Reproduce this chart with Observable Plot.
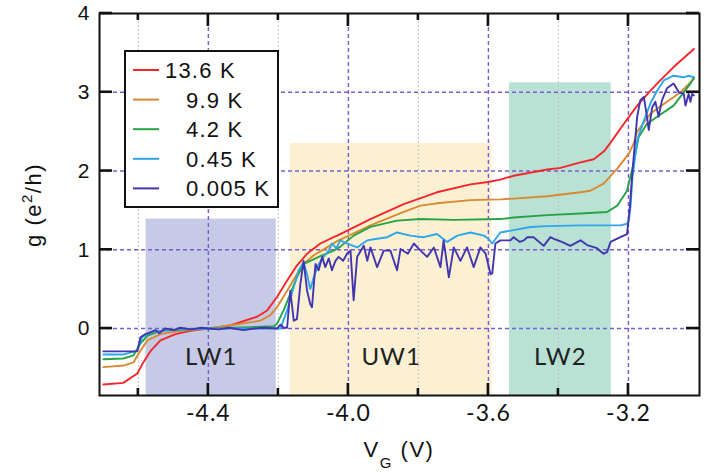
<!DOCTYPE html>
<html><head><meta charset="utf-8">
<script src="https://cdn.jsdelivr.net/npm/d3@7"></script>
<script src="https://cdn.jsdelivr.net/npm/@observablehq/plot@0.6"></script>
<style>body{margin:0;background:#fff;} svg{display:block}</style>
</head><body><div id="chart"></div>
<script>
// ---- data (V_G in volts, g in e^2/h) ----
const seriesLabels = ["13.6 K", "9.9 K", "4.2 K", "0.45 K", "0.005 K"];
const seriesColors = ["#f5262b", "#d88a2e", "#26a344", "#2ea6e8", "#4236b0"];

const g_13_6K = [[-4.700,-0.71],[-4.643,-0.69],[-4.603,-0.57],[-4.586,-0.43],[-4.566,-0.29],[-4.537,-0.15],[-4.494,-0.07],[-4.451,-0.03],[-4.400,0.00],[-4.337,0.04],[-4.309,0.08],[-4.261,0.15],[-4.232,0.23],[-4.204,0.40],[-4.175,0.61],[-4.147,0.80],[-4.118,0.95],[-4.080,1.08],[-4.042,1.16],[-4.032,1.18],[-3.937,1.39],[-3.842,1.58],[-3.747,1.73],[-3.651,1.83],[-3.601,1.86],[-3.566,1.89],[-3.528,1.94],[-3.432,2.02],[-3.394,2.04],[-3.337,2.11],[-3.299,2.15],[-3.270,2.25],[-3.251,2.36],[-3.213,2.60],[-3.175,2.83],[-3.137,3.02],[-3.109,3.15],[-3.071,3.32],[-3.013,3.55]];

const g_9_9K = [[-4.700,-0.49],[-4.643,-0.47],[-4.614,-0.43],[-4.594,-0.28],[-4.574,-0.15],[-4.537,-0.07],[-4.480,-0.03],[-4.400,0.00],[-4.309,0.06],[-4.251,0.10],[-4.223,0.17],[-4.204,0.27],[-4.175,0.48],[-4.147,0.69],[-4.128,0.82],[-4.099,0.93],[-4.061,1.03],[-4.032,1.11],[-3.937,1.31],[-3.842,1.48],[-3.794,1.56],[-3.747,1.59],[-3.651,1.63],[-3.566,1.64],[-3.528,1.65],[-3.432,1.68],[-3.337,1.73],[-3.309,1.75],[-3.271,1.84],[-3.232,2.03],[-3.199,2.22],[-3.185,2.35],[-3.175,2.50],[-3.137,2.73],[-3.090,2.88],[-3.051,3.00],[-3.013,3.17]];

const g_4_2K = [[-4.700,-0.39],[-4.643,-0.38],[-4.614,-0.34],[-4.594,-0.19],[-4.574,-0.09],[-4.537,-0.03],[-4.400,0.00],[-4.213,0.03],[-4.204,0.06],[-4.185,0.23],[-4.166,0.44],[-4.147,0.65],[-4.128,0.82],[-4.109,0.86],[-4.080,0.92],[-4.042,0.99],[-4.023,1.04],[-3.985,1.18],[-3.937,1.29],[-3.861,1.37],[-3.794,1.39],[-3.699,1.38],[-3.566,1.39],[-3.528,1.41],[-3.432,1.44],[-3.337,1.46],[-3.261,1.48],[-3.232,1.56],[-3.204,1.75],[-3.185,2.10],[-3.171,2.43],[-3.147,2.60],[-3.118,2.69],[-3.071,2.83],[-3.023,3.11],[-3.013,3.19]];

const g_0_45K = [[-4.700,-0.33],[-4.643,-0.33],[-4.603,-0.28],[-4.589,-0.11],[-4.566,-0.05],[-4.523,-0.02],[-4.400,0.00],[-4.194,0.00],[-4.175,0.23],[-4.156,0.53],[-4.142,0.74],[-4.128,0.84],[-4.118,0.69],[-4.109,0.50],[-4.099,0.65],[-4.085,0.82],[-4.071,0.91],[-4.056,0.99],[-4.047,1.08],[-4.035,1.02],[-4.023,1.12],[-4.004,1.08],[-3.975,1.03],[-3.946,1.12],[-3.918,1.14],[-3.889,1.16],[-3.861,1.22],[-3.823,1.18],[-3.785,1.16],[-3.747,1.20],[-3.718,1.10],[-3.689,1.18],[-3.651,1.22],[-3.613,1.18],[-3.600,1.14],[-3.589,1.08],[-3.566,1.22],[-3.528,1.25],[-3.480,1.29],[-3.432,1.30],[-3.337,1.31],[-3.223,1.31],[-3.204,1.33],[-3.199,1.37],[-3.194,1.55],[-3.189,1.90],[-3.175,2.39],[-3.156,2.64],[-3.137,2.86],[-3.118,3.02],[-3.099,3.15],[-3.071,3.21],[-3.042,3.19],[-3.028,3.21],[-3.013,3.19]];

const g_0_005K = [[-4.700,-0.29],[-4.603,-0.29],[-4.594,-0.11],[-4.580,-0.07],[-4.566,-0.05],[-4.551,-0.02],[-4.540,-0.06],[-4.523,0.00],[-4.500,-0.02],[-4.480,0.01],[-4.450,-0.01],[-4.420,0.01],[-4.400,0.00],[-4.370,-0.01],[-4.340,0.01],[-4.300,-0.02],[-4.270,0.00],[-4.240,0.01],[-4.204,0.00],[-4.194,0.05],[-4.185,0.01],[-4.175,0.01],[-4.166,0.48],[-4.156,0.10],[-4.147,0.12],[-4.137,0.57],[-4.128,0.86],[-4.118,0.48],[-4.109,0.31],[-4.104,0.27],[-4.094,0.82],[-4.085,0.74],[-4.075,0.91],[-4.066,0.78],[-4.056,0.89],[-4.047,0.74],[-4.037,0.86],[-4.028,0.91],[-4.015,0.86],[-4.004,0.95],[-3.994,0.99],[-3.985,0.36],[-3.975,0.91],[-3.956,1.05],[-3.946,0.86],[-3.937,1.03],[-3.918,0.78],[-3.899,0.99],[-3.880,0.99],[-3.861,0.74],[-3.851,1.01],[-3.830,0.95],[-3.813,1.08],[-3.794,0.99],[-3.775,0.91],[-3.756,1.03],[-3.737,0.78],[-3.728,1.12],[-3.713,0.65],[-3.699,1.03],[-3.680,0.86],[-3.661,1.03],[-3.642,0.78],[-3.623,1.03],[-3.608,0.95],[-3.594,0.69],[-3.589,0.70],[-3.580,1.08],[-3.566,1.12],[-3.537,1.12],[-3.528,1.16],[-3.510,1.10],[-3.499,1.12],[-3.489,1.16],[-3.471,1.16],[-3.442,1.05],[-3.423,1.16],[-3.413,1.14],[-3.390,1.10],[-3.366,1.05],[-3.337,1.12],[-3.318,1.06],[-3.290,1.02],[-3.271,0.95],[-3.261,0.97],[-3.251,1.10],[-3.223,1.16],[-3.204,1.20],[-3.196,1.54],[-3.189,1.97],[-3.185,2.18],[-3.175,2.69],[-3.166,2.90],[-3.156,2.94],[-3.147,2.69],[-3.142,2.52],[-3.132,2.81],[-3.123,2.88],[-3.114,2.69],[-3.104,2.90],[-3.090,3.05],[-3.071,3.11],[-3.056,3.00],[-3.042,2.98],[-3.037,2.83],[-3.028,2.98],[-3.023,2.88],[-3.018,2.98],[-3.013,2.96]];

const seriesData = [g_13_6K, g_9_9K, g_4_2K, g_0_45K, g_0_005K];

// shaded regions
const regionNames = ["LW1", "UW1", "LW2"];
const regionStart = [-4.578, -4.166, -3.540];
const regionEnd = [-4.206, -3.590, -3.249];
const regionTop = [1.39, 2.35, 3.12];
const regionColors = ["#c7cae6", "#fcf0d3", "#b9e2d5"];

// axes
const xDomain = [-4.711, -2.997];
const yDomain = [-0.85, 4];
const xMajorTicks = [-4.4, -4.0, -3.6, -3.2];
const xMinorTicks = [-4.6, -4.2, -3.8, -3.4];
const yTicks = [0, 1, 2, 3, 4];
const yGrid = [0, 1, 2, 3];

// ---- layout ----
const W = 715, H = 473, mL = 99, mR = 16, mT = 13, mB = 78;

const regions = regionNames.map((name, i) => ({name, start: regionStart[i], end: regionEnd[i], top: regionTop[i], fill: regionColors[i]}));
const gridPurple = "#7a5cd2";

const chart = Plot.plot({
  width: W, height: H,
  marginLeft: mL, marginRight: mR, marginTop: mT, marginBottom: mB,
  x: {domain: xDomain, axis: null},
  y: {domain: yDomain, axis: null},
  style: {fontFamily: "'Liberation Sans', Arial, sans-serif", background: "white", letterSpacing: "1px", color: "#111"},
  marks: [
    Plot.rect(regions, {x1: "start", x2: "end", y1: () => yDomain[0], y2: "top", fill: "fill"}),
    Plot.ruleX(xMinorTicks, {stroke: "#bcbcbc", strokeDasharray: "1.5,2.5", strokeWidth: 1.2}),
    Plot.ruleX(xMajorTicks, {stroke: gridPurple, strokeDasharray: "4,3", strokeWidth: 1.4}),
    Plot.ruleY(yGrid, {stroke: gridPurple, strokeDasharray: "4,3", strokeWidth: 1.4}),
    Plot.text(regions, {x: d => (d.start + d.end) / 2, frameAnchor: "bottom", dy: -31, text: "name", fontFamily: "Lato", fontSize: 24, fill: "#222"}),
    ...seriesData.map((s, i) => Plot.line(s, {x: d => d[0], y: d => d[1], stroke: seriesColors[i], strokeWidth: 1.9})),
    Plot.frame({stroke: "#111", strokeWidth: 2}),
    Plot.text(yTicks, {y: d => d, frameAnchor: "left", dx: -9, textAnchor: "end", text: d => String(d), fontSize: 21, fill: "#111"}),
    Plot.text(xMajorTicks, {x: d => d, frameAnchor: "bottom", dy: 25, text: d => d.toFixed(1), fontFamily: "Lato", fontSize: 23, fill: "#111"})
  ]
});

const svg = d3.select(chart);
const sx = chart.scale("x"), sy = chart.scale("y");
const X = v => sx.apply(v), Y = v => sy.apply(v);
const x0 = X(xDomain[0]), x1 = X(xDomain[1]), y0 = Y(yDomain[0]), y1 = Y(yDomain[1]);

// inward ticks on all four sides
const tg = svg.append("g").attr("stroke", "#111").attr("stroke-width", 2.6);
const seg = (xa, ya, xb, yb) => tg.append("line").attr("x1", xa).attr("y1", ya).attr("x2", xb).attr("y2", yb);
yTicks.forEach(v => { seg(x0, Y(v), x0 + 13, Y(v)); seg(x1, Y(v), x1 - 13, Y(v)); });
xMajorTicks.forEach(v => { seg(X(v), y0, X(v), y0 - 12); seg(X(v), y1, X(v), y1 + 13); });
xMinorTicks.forEach(v => { seg(X(v), y0, X(v), y0 - 7); seg(X(v), y1, X(v), y1 + 7); });

// legend
const lg = svg.append("g").attr("font-family", "'Liberation Sans', Arial, sans-serif").attr("font-size", 22)
  .attr("letter-spacing", "1.2px").attr("text-anchor", "start");
lg.append("rect").attr("x", 125).attr("y", 51).attr("width", 153).attr("height", 156).attr("fill", "white").attr("stroke", "#111").attr("stroke-width", 2);
const legendTextX = [165, 186, 186, 186, 186];
seriesLabels.forEach((lab, i) => {
  const y = 70 + i * 29.6;
  lg.append("line").attr("x1", 133).attr("x2", 159).attr("y1", y).attr("y2", y).attr("stroke", seriesColors[i]).attr("stroke-width", 2);
  lg.append("text").attr("x", legendTextX[i]).attr("y", y).attr("dy", "0.36em").attr("text-anchor", "start").attr("fill", "#111").text(lab);
});

// axis labels
const yl = svg.append("text").attr("transform", "translate(41,205) rotate(-90)").attr("text-anchor", "middle")
  .attr("font-family", "'Liberation Sans', Arial, sans-serif").attr("font-size", 22).attr("letter-spacing", "1.5px").attr("fill", "#111");
yl.append("tspan").text("g (e");
yl.append("tspan").attr("dy", -9).attr("font-size", 15).text("2");
yl.append("tspan").attr("dy", 9).text("/h)");

const xl = svg.append("text").attr("x", 399).attr("y", 457).attr("text-anchor", "middle")
  .attr("font-family", "'Liberation Sans', Arial, sans-serif").attr("font-size", 22).attr("letter-spacing", "1.5px").attr("fill", "#111");
xl.append("tspan").text("V");
xl.append("tspan").attr("dy", 11).attr("font-size", 15).text("G");
xl.append("tspan").attr("dy", -11).text(" (V)");

document.getElementById("chart").appendChild(chart);
</script>
</body></html>
